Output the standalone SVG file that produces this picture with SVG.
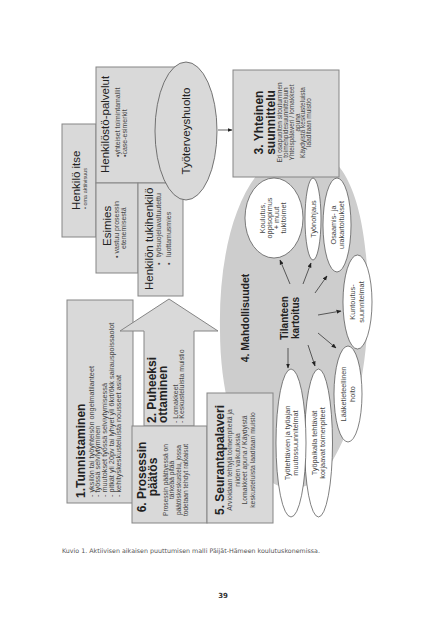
<svg xmlns="http://www.w3.org/2000/svg" width="443" height="640" viewBox="0 0 443 640">
<style>
.bx{fill:#d9d9d9;stroke:#858585;stroke-width:1}
.el{fill:#fff;stroke:#4a4a4a;stroke-width:0.7}
text{font-family:"Liberation Sans",Arial,sans-serif;fill:#333}
.h{font-size:11.5px;fill:#222}
.b{font-size:12px;font-weight:bold;fill:#222}
.s{font-size:7px;fill:#444}
.e{font-size:7.3px;fill:#444}
.m{text-anchor:middle}
.ar{stroke:#222;stroke-width:0.7;fill:none;marker-end:url(#ah)}
</style>
<defs>
<marker id="ah" viewBox="0 0 10 10" refX="9" refY="5" markerWidth="5" markerHeight="5" orient="auto" markerUnits="userSpaceOnUse"><path d="M0,1 L10,5 L0,9 Z" fill="#222"/></marker>
</defs>
<rect width="443" height="640" fill="#fff"/>

<g id="mahdollisuudet">
<path d="M305 148 C355 150 368 230 368 300 C368 370 355 425 330 465 C312 490 290 495 268 480 C240 460 220 400 220 330 C218 240 245 150 305 148 Z" fill="#cdcdcd"/>
<text class="b m" style="font-size:10.5px" transform="translate(249,318) rotate(-90)">4. Mahdollisuudet</text>
</g>

<g id="henkilo-itse">
<rect class="bx" x="62" y="124" width="34" height="113"/>
<text class="h" transform="translate(80,210) rotate(-90)">Henkilö itse</text>
<text class="s" style="font-size:5.5px" transform="translate(86.5,209) rotate(-90)">• oma aktiivisuus</text>
</g>

<g id="henkilosto-palvelut">
<rect class="bx" x="96" y="67" width="88" height="116"/>
<text class="h" transform="translate(108.5,173) rotate(-90)">Henkilöstö-palvelut</text>
<text class="s" transform="translate(120,157) rotate(-90)"><tspan x="0" y="0">•yhteiset toimintamallit</tspan><tspan x="0" y="7">•case-esimerkit</tspan></text>
</g>

<g id="esimies">
<rect class="bx" x="96" y="183" width="42" height="90"/>
<text class="h" transform="translate(110.5,246) rotate(-90)">Esimies</text>
<text class="s" transform="translate(118.5,258) rotate(-90)">• vastuu prosessin</text>
<text class="s" transform="translate(125.5,249) rotate(-90)">etenemisestä</text>
</g>

<g id="tukihenkilo">
<rect class="bx" x="138" y="183" width="45" height="113"/>
<text class="h" transform="translate(152.5,290) rotate(-90)">Henkilön tukihenkilö</text>
<text class="s" transform="translate(161,265) rotate(-90)">•</text>
<text class="s" transform="translate(161,257) rotate(-90)">työsuojeluvaltuutettu</text>
<text class="s" transform="translate(170.5,265) rotate(-90)">•</text>
<text class="s" transform="translate(170.5,257) rotate(-90)">luottamusmies</text>
</g>

<g id="tyoterveyshuolto">
<ellipse cx="186" cy="131" rx="31" ry="69" fill="#d9d9d9" stroke="#555" stroke-width="0.8"/>
<text class="h m" transform="translate(190,131) rotate(-90)">Työterveyshuolto</text>
</g>

<g id="yhteinen-suunnittelu">
<rect class="bx" x="233" y="70" width="106" height="107"/>
<text class="b m" transform="translate(263,122.5) rotate(-90)"><tspan x="0" y="0">3. Yhteinen</tspan><tspan x="0" y="12">suunnittelu</tspan></text>
<text class="s m" style="font-size:6.5px" transform="translate(281.5,122.5) rotate(-90)"><tspan x="0" y="0">Eri osapuolten sitoutuminen</tspan><tspan x="0" y="6">toimenpidesuunnitteluun</tspan><tspan x="0" y="12">Yhteispalaveri / lomakkeet</tspan><tspan x="0" y="18">apuna</tspan><tspan x="0" y="23.5">Käydyistä keskusteluista</tspan><tspan x="0" y="29.5">laaditaan muistio</tspan></text>
</g>

<g id="tilanteen-kartoitus">
<text class="b m" style="font-size:10px" transform="translate(288,318) rotate(-90)"><tspan x="0" y="0">Tilanteen</tspan><tspan x="0" y="11">kartoitus</tspan></text>
</g>

<g id="koulutus">
<ellipse class="el" cx="274" cy="218" rx="29" ry="40"/>
<text class="e m" transform="translate(265,218) rotate(-90)"><tspan x="0" y="0">Koulutus,</tspan><tspan x="0" y="7">oppisopimus</tspan><tspan x="0" y="14">+ muut</tspan><tspan x="0" y="21">tukitoimet</tspan></text>
</g>

<g id="tyonohjaus">
<ellipse class="el" cx="313" cy="219" rx="8" ry="41"/>
<text class="e m" transform="translate(315.5,219) rotate(-90)">Työnohjaus</text>
</g>

<g id="osaamis">
<ellipse class="el" cx="337" cy="225" rx="14" ry="47"/>
<text class="e m" transform="translate(335.5,225) rotate(-90)"><tspan x="0" y="0">Osaamis- ja</tspan><tspan x="0" y="8.5">urakartoitukset</tspan></text>
</g>

<g id="kuntoutus">
<ellipse class="el" cx="357.5" cy="302" rx="14.5" ry="47"/>
<text class="e m" transform="translate(355,302) rotate(-90)"><tspan x="0" y="0">Kuntoutus-</tspan><tspan x="0" y="9">suunnitelmat</tspan></text>
</g>

<g id="laaketieteellinen">
<ellipse class="el" cx="348" cy="394" rx="14" ry="48"/>
<text class="e m" transform="translate(345.5,394) rotate(-90)"><tspan x="0" y="0">Lääketieteellinen</tspan><tspan x="0" y="9">hoito</tspan></text>
</g>

<g id="tyopaikalla">
<ellipse class="el" cx="318.5" cy="443" rx="14" ry="74"/>
<text class="e m" transform="translate(317,443) rotate(-90)"><tspan x="0" y="0">Työpaikalla tehtävät</tspan><tspan x="0" y="8">korjaavat toimenpiteet</tspan></text>
</g>

<g id="tyotehtavien">
<ellipse class="el" cx="291" cy="443" rx="15" ry="74"/>
<text class="e m" transform="translate(289.5,443) rotate(-90)"><tspan x="0" y="0">Työtehtävien ja työajan</tspan><tspan x="0" y="8">muutossuunnitelmat</tspan></text>
</g>

<g id="tunnistaminen">
<rect class="bx" x="67" y="300" width="66" height="203"/>
<text class="b" transform="translate(84.5,498) rotate(-90)">1.Tunnistaminen</text>
<text class="e" transform="translate(93.5,497) rotate(-90)"><tspan x="0" y="0">- yksilön tai työyhteisön ongelmatilanteet</tspan><tspan x="0" y="6.75">- työssä selviytyminen</tspan><tspan x="0" y="13.5">- muutokset työssä selviytymisessä</tspan><tspan x="0" y="20.25">- pitkät yli 20pv tai lyhyet yli 6krt/6kk sairauspoissaolot</tspan><tspan x="0" y="27">- kehityskeskusteluista nousseet asiat</tspan></text>
</g>

<g id="puheeksi-ottaminen">
<polygon points="169,299 218,331 194,331 194,426 144,426 144,331 120,331" fill="#d9d9d9" stroke="#858585" stroke-width="1"/>
<text class="b" transform="translate(156,423) rotate(-90)"><tspan x="0" y="0">2. Puheeksi</tspan><tspan x="0" y="11">ottaminen</tspan></text>
<text class="s" transform="translate(177.5,423) rotate(-90)"><tspan x="0" y="0">- Lomakkeet</tspan><tspan x="0" y="6">- Keskusteluista muistio</tspan></text>
</g>

<g id="prosessin-paatos">
<rect class="bx" x="132" y="426" width="75" height="97"/>
<text class="b m" transform="translate(145.5,477) rotate(-90)"><tspan x="0" y="0">6. Prosessin</tspan><tspan x="0" y="11">päätös</tspan></text>
<text class="s m" style="font-size:6.6px" transform="translate(167.5,480) rotate(-90)"><tspan x="0" y="0">Prosessin päättyessä on</tspan><tspan x="0" y="6.6">tärkeää pitää</tspan><tspan x="0" y="13.4">päätöskeskustelu, jossa</tspan><tspan x="0" y="20.2">todetaan tehdyt ratkaisut</tspan></text>
</g>

<g id="seurantapalaveri">
<rect class="bx" x="207" y="393" width="66" height="130"/>
<text class="b m" transform="translate(224,460) rotate(-90)">5. Seurantapalaveri</text>
<text class="s m" style="font-size:6.8px" transform="translate(232,460) rotate(-90)"><tspan x="0" y="0">Arvioidaan tehtyjä toimenpiteitä ja</tspan><tspan x="0" y="7.5">niiden vaikutuksia</tspan><tspan x="0" y="15">Lomakkeet apuna / Käydyistä</tspan><tspan x="0" y="22.5">keskusteluista laaditaan muistio</tspan></text>
</g>

<g id="connectors">
<line class="ar" x1="218" y1="130" x2="232" y2="130"/>
<line class="ar" x1="290" y1="284" x2="280" y2="260"/>
<line class="ar" x1="303" y1="284" x2="311" y2="263"/>
<line class="ar" x1="315" y1="293" x2="327" y2="276"/>
<line class="ar" x1="318" y1="315" x2="341" y2="311"/>
<line class="ar" x1="318" y1="333" x2="336" y2="348"/>
<line class="ar" x1="308" y1="345" x2="315" y2="366"/>
<line class="ar" x1="288" y1="348" x2="288" y2="368"/>
</g>

<g id="caption">
<text x="62" y="552.5" style="font-family:'DejaVu Sans',Verdana,sans-serif;font-size:6.2px;fill:#555" textLength="258" lengthAdjust="spacingAndGlyphs">Kuvio 1. Aktiivisen aikaisen puuttumisen malli Päijät-Hämeen koulutuskonemissa.</text>
<text x="223" y="598" style="font-family:'DejaVu Sans',Verdana,sans-serif;font-size:7px;font-weight:bold;fill:#333" text-anchor="middle">39</text>
</g>
</svg>
